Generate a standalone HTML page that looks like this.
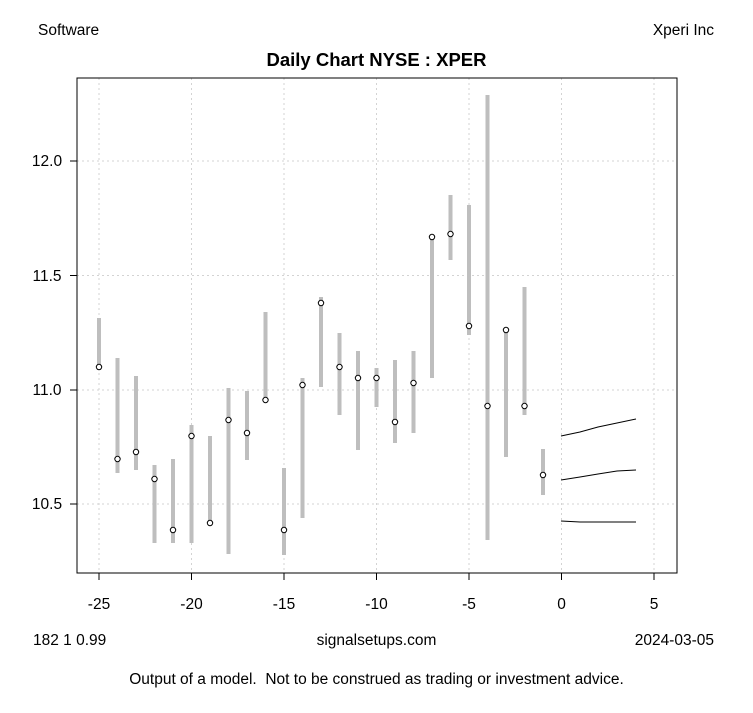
<!DOCTYPE html>
<html><head><style>
body{margin:0;background:#fff;}
svg text{font-family:"Liberation Sans",Arial,sans-serif;fill:#000;white-space:pre;}
</style></head><body>
<svg width="753" height="708" viewBox="0 0 753 708" xmlns="http://www.w3.org/2000/svg">
<rect width="753" height="708" fill="#fff"/>
<g stroke="#d3d3d3" stroke-dasharray="2,3" stroke-width="1">
<line x1="99" y1="78" x2="99" y2="573"/><line x1="191.5" y1="78" x2="191.5" y2="573"/><line x1="284" y1="78" x2="284" y2="573"/><line x1="376.5" y1="78" x2="376.5" y2="573"/><line x1="469" y1="78" x2="469" y2="573"/><line x1="561.5" y1="78" x2="561.5" y2="573"/><line x1="654" y1="78" x2="654" y2="573"/>
<line x1="77" y1="161" x2="677" y2="161"/><line x1="77" y1="275.5" x2="677" y2="275.5"/><line x1="77" y1="390" x2="677" y2="390"/><line x1="77" y1="504" x2="677" y2="504"/>
</g>
<g stroke="#bebebe" stroke-width="4">
<line x1="99" y1="318" x2="99" y2="370"/>
<line x1="117.5" y1="358" x2="117.5" y2="473"/>
<line x1="136" y1="376" x2="136" y2="470"/>
<line x1="154.5" y1="465" x2="154.5" y2="543"/>
<line x1="173" y1="459" x2="173" y2="543"/>
<line x1="191.5" y1="425" x2="191.5" y2="543"/>
<line x1="210" y1="436" x2="210" y2="525"/>
<line x1="228.5" y1="388" x2="228.5" y2="554"/>
<line x1="247" y1="391" x2="247" y2="460"/>
<line x1="265.5" y1="312" x2="265.5" y2="402"/>
<line x1="284" y1="468" x2="284" y2="555"/>
<line x1="302.5" y1="378" x2="302.5" y2="518"/>
<line x1="321" y1="297" x2="321" y2="387"/>
<line x1="339.5" y1="333" x2="339.5" y2="415"/>
<line x1="358" y1="351" x2="358" y2="450"/>
<line x1="376.5" y1="368" x2="376.5" y2="407"/>
<line x1="395" y1="360" x2="395" y2="443"/>
<line x1="413.5" y1="351" x2="413.5" y2="433"/>
<line x1="432" y1="237" x2="432" y2="378"/>
<line x1="450.5" y1="195" x2="450.5" y2="260"/>
<line x1="469" y1="205" x2="469" y2="335"/>
<line x1="487.5" y1="95" x2="487.5" y2="540"/>
<line x1="506" y1="328" x2="506" y2="457"/>
<line x1="524.5" y1="287" x2="524.5" y2="415"/>
<line x1="543" y1="449" x2="543" y2="495"/>
</g>
<g fill="#fff" stroke="#000" stroke-width="1">
<circle cx="99" cy="367" r="2.7"/><circle cx="117.5" cy="459" r="2.7"/><circle cx="136" cy="452" r="2.7"/><circle cx="154.5" cy="479" r="2.7"/><circle cx="173" cy="530" r="2.7"/><circle cx="191.5" cy="436" r="2.7"/><circle cx="210" cy="523" r="2.7"/><circle cx="228.5" cy="420" r="2.7"/><circle cx="247" cy="433" r="2.7"/><circle cx="265.5" cy="400" r="2.7"/><circle cx="284" cy="530" r="2.7"/><circle cx="302.5" cy="385" r="2.7"/><circle cx="321" cy="303" r="2.7"/><circle cx="339.5" cy="367" r="2.7"/><circle cx="358" cy="378" r="2.7"/><circle cx="376.5" cy="378" r="2.7"/><circle cx="395" cy="422" r="2.7"/><circle cx="413.5" cy="383" r="2.7"/><circle cx="432" cy="237" r="2.7"/><circle cx="450.5" cy="234" r="2.7"/><circle cx="469" cy="326" r="2.7"/><circle cx="487.5" cy="406" r="2.7"/><circle cx="506" cy="330" r="2.7"/><circle cx="524.5" cy="406" r="2.7"/><circle cx="543" cy="475" r="2.7"/>
</g>
<g fill="none" stroke="#000" stroke-width="1">
<polyline points="561,436 580,432 598,427 617,423 636,419"/>
<polyline points="561,480 580,477 598,474 617,471 636,470"/>
<polyline points="561,521 580,522 598,522 617,522 636,522"/>
<rect x="77" y="78" width="600" height="495"/>
<line x1="99" y1="573" x2="654" y2="573"/>
<line x1="99" y1="573" x2="99" y2="580"/><line x1="191.5" y1="573" x2="191.5" y2="580"/><line x1="284" y1="573" x2="284" y2="580"/><line x1="376.5" y1="573" x2="376.5" y2="580"/><line x1="469" y1="573" x2="469" y2="580"/><line x1="561.5" y1="573" x2="561.5" y2="580"/><line x1="654" y1="573" x2="654" y2="580"/>
<line x1="77" y1="161" x2="70" y2="161"/><line x1="77" y1="275.5" x2="70" y2="275.5"/><line x1="77" y1="390" x2="70" y2="390"/><line x1="77" y1="504" x2="70" y2="504"/>
</g>
<g font-size="15.5" text-anchor="middle">
<text x="99" y="609">-25</text><text x="191.5" y="609">-20</text><text x="284" y="609">-15</text><text x="376.5" y="609">-10</text><text x="469" y="609">-5</text><text x="561.5" y="609">0</text><text x="654" y="609">5</text>
<text x="47" y="166">12.0</text><text x="47" y="281">11.5</text><text x="47" y="395">11.0</text><text x="47" y="509">10.5</text>
<text x="376.5" y="645">signalsetups.com</text>
<text x="376.5" y="684">Output of a model.  Not to be construed as trading or investment advice.</text>
</g>
<text x="376.5" y="66" font-size="18.5" font-weight="bold" text-anchor="middle">Daily Chart NYSE : XPER</text>
<text x="38" y="35" font-size="15.5">Software</text>
<text x="714" y="35" font-size="15.5" text-anchor="end">Xperi Inc</text>
<text x="33" y="645" font-size="15.5">182 1 0.99</text>
<text x="714" y="645" font-size="15.5" text-anchor="end">2024-03-05</text>
</svg>
</body></html>
